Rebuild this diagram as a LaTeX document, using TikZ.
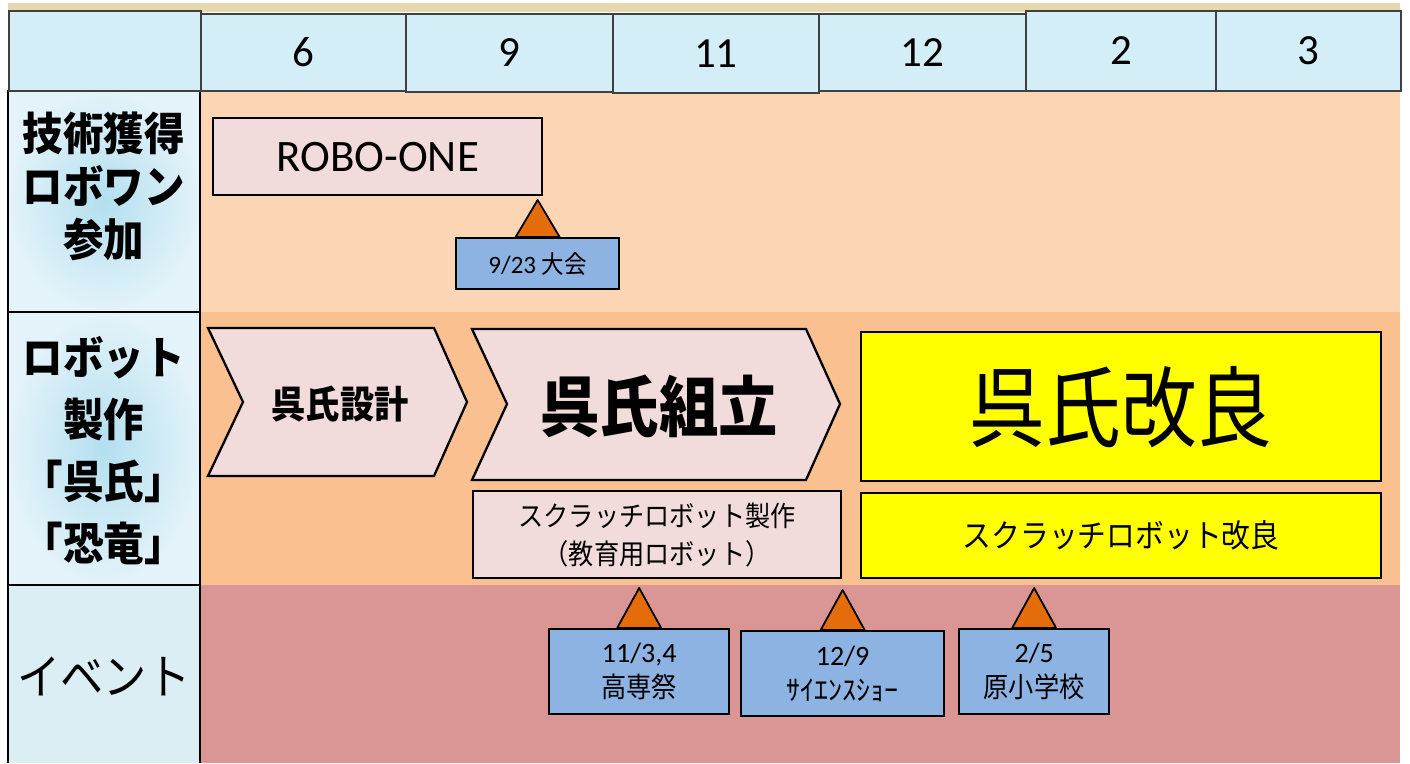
\documentclass[tikz,border=0pt]{standalone}
\usepackage{fontspec}
\setmainfont{Carlito}
\newfontfamily\jp[FakeStretch=0.9]{Noto Sans CJK JP}
\newfontfamily\jpn[FakeStretch=0.86]{Noto Sans CJK JP}
\newfontfamily\jphalf{Noto Sans CJK JP}
\definecolor{hdr}{HTML}{D3EEF7}
\definecolor{lblin}{HTML}{B3DFEF}
\definecolor{lblout}{HTML}{E3F3F9}
\definecolor{lblflat}{HTML}{DAEEF3}
\definecolor{rowA}{HTML}{FCD5B5}
\definecolor{rowB}{HTML}{FAC090}
\definecolor{rowC}{HTML}{D99694}
\definecolor{pinkbox}{HTML}{F2DCDB}
\definecolor{trifill}{HTML}{E46C0A}
\definecolor{evt}{HTML}{8DB3E2}
\definecolor{tan}{HTML}{E6D7AE}
\definecolor{hdrline}{HTML}{404040}
\definecolor{yel}{HTML}{FFFF00}
\newcommand{\fsz}[2]{\fontsize{#1}{#2}\selectfont}
\tikzset{
  hcell/.style={draw=hdrline, fill=hdr, line width=1.8pt, inner sep=0pt, anchor=north west, font=\fsz{43}{50}},
  box/.style={draw=black, line width=2.3pt, inner sep=0pt, anchor=north west, align=center},
  pinkb/.style={box, fill=pinkbox},
  yelb/.style={box, fill=yel},
  evb/.style={box, fill=evt, font=\fsz{28}{35}},
  tri/.style={draw=black, fill=trifill, line width=1.8pt, line join=round},
  chev/.style={draw=black, fill=pinkbox, line width=2.3pt, line join=miter},
  lbl/.style={align=center, inner sep=0pt},
  rowline/.style={draw=black, line width=2.2pt}
}
\begin{document}
\begin{tikzpicture}[x=1pt,y=-1pt]
\useasboundingbox (0,0) rectangle (1410,763);
\fill[white] (0,0) rectangle (1410,763);
\fill[tan] (8,3) rectangle (1400,12);
% row backgrounds
\fill[rowA] (200,90) rectangle (1400,312);
\fill[rowB] (200,312) rectangle (1400,585);
\fill[rowC] (200,585) rectangle (1400,763);
% left label column
\shade[inner color=lblin, outer color=lblout] (8,90) rectangle (200,312);
\shade[inner color=lblin, outer color=lblout] (8,312) rectangle (200,585);
\fill[lblflat] (8,585) rectangle (200,763);
\draw[rowline] (8,90) -- (8,763);
\draw[rowline] (200,90) -- (200,763);
\draw[rowline] (8,312) -- (200,312);
\draw[rowline] (8,585) -- (200,585);
% header
\node[hcell, minimum width=192, minimum height=80] (h0) at (8,10) {};
\node[hcell, minimum width=205, minimum height=77] (h1) at (200,13) {6};
\node[hcell, minimum width=207, minimum height=78] (h2) at (405,13) {9};
\node[hcell, minimum width=206, minimum height=79] (h3) at (612,13) {11};
\node[hcell, minimum width=207, minimum height=77] (h4) at (818,13) {12};
\node[hcell, minimum width=190, minimum height=80] (h5) at (1025,10) {2};
\node[hcell, minimum width=185, minimum height=80] (h6) at (1215,10) {3};
% left labels
\node[lbl, font=\jp\bfseries\fsz{45}{53}] (l1) at (104,186) {技術獲得\\ロボワン\\参加};
\node[lbl, font=\jp\bfseries\fsz{45}{62}] (l2) at (104,451) {ロボット\\製作\\「呉氏」\\「恐竜」};
\node[lbl, font=\jp\fsz{48}{56}] (l3) at (104,676) {イベント};
% row 1
\node[pinkb, minimum width=329, minimum height=77, font=\fsz{45}{54}] (robo) at (212,117) {ROBO-ONE};
\node[evb, minimum width=163, minimum height=51, font=\fsz{25}{30}] (e0) at (455,237) {9/23 {\jp 大会}};
\draw[tri] ([xshift=-22pt]e0.north) -- ([yshift=37pt]e0.north) -- ([xshift=22pt]e0.north) -- cycle;
% row 2 chevrons
\draw[chev] (208,328) -- (434,328) -- (467,402) -- (434,476) -- (208,476) -- (243,402) -- cycle;
\node[lbl, font=\jp\bfseries\fsz{38}{44}] (c1) at (340,404) {呉氏設計};
\draw[chev] (472,329) -- (806,329) -- (840,404) -- (806,480) -- (472,480) -- (507,404) -- cycle;
\node[lbl, font=\jp\bfseries\fsz{66}{76}] (c2) at (659,406) {呉氏組立};
\node[pinkb, minimum width=368, minimum height=87, font=\jp\fsz{28}{38}] (s1) at (472,490) {スクラッチロボット製作\\（教育用ロボット）};
\node[yelb, minimum width=520, minimum height=149, font=\jpn\fsz{88}{96}] (k1) at (860,331) {呉氏改良};
\node[yelb, minimum width=520, minimum height=85, font=\jp\fsz{32}{38}] (k2) at (860,492) {スクラッチロボット改良};
% events
\node[evb, minimum width=180, minimum height=85] (e1) at (548,628) {11/3,4\\{\jp 高専祭}};
\node[evb, minimum width=203, minimum height=85] (e2) at (740,630) {12/9\\{\jphalf ｻｲｴﾝｽｼｮｰ}};
\node[evb, minimum width=150, minimum height=85] (e3) at (958,628) {2/5\\{\jp 原小学校}};
\foreach \e in {e1,e2,e3}{
  \draw[tri] ([xshift=-22pt]\e.north) -- ([yshift=40pt]\e.north) -- ([xshift=22pt]\e.north) -- cycle;
}
\end{tikzpicture}
\end{document}
